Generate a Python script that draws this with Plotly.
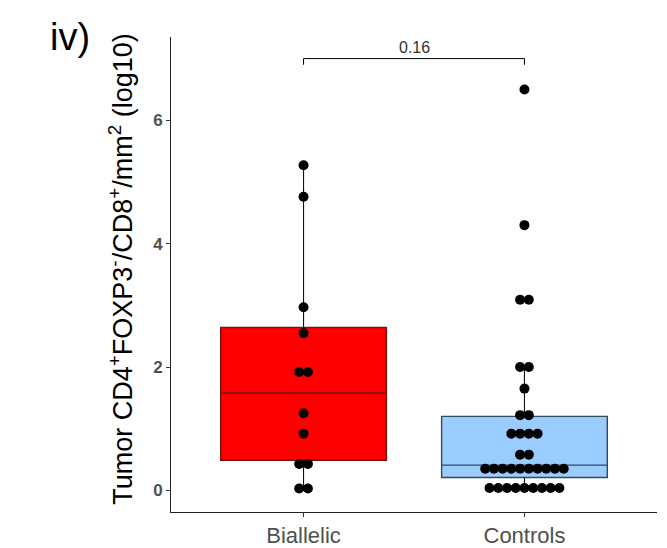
import plotly.graph_objects as go
from collections import Counter

# ---------------- data ----------------
categories = ["Biallelic", "Controls"]

biallelic_values = [5.27, 4.76, 2.97, 2.55, 1.92, 1.92, 1.25, 0.92,
                    0.43, 0.43, 0.03, 0.03]
controls_values = [6.50, 4.30, 3.09, 3.09, 2.00, 2.00, 1.65, 1.22, 1.22,
                   0.92, 0.92, 0.92, 0.92, 0.58, 0.58,
                   0.35, 0.35, 0.35, 0.35, 0.35, 0.35, 0.35, 0.35, 0.35, 0.35,
                   0.04, 0.04, 0.04, 0.04, 0.04, 0.04, 0.04, 0.04, 0.04]

# box statistics
box_q1 = [0.49, 0.21]
box_median = [1.58, 0.41]
box_q3 = [2.64, 1.20]
whisker_low = [0.03, 0.04]
whisker_high = [5.27, 2.00]

p_value_label = "0.16"

y_tick_vals = [0, 2, 4, 6]

# ---------------- styling ----------------
box_fill = ["#FF0000", "#99CCFF"]
box_line = ["#7A1212", "#34495E"]
BOX_WIDTH = 0.75
DOT_STEP = 0.0395
BRACKET_Y = 7.0
BRACKET_TIP = 0.1

fig = go.Figure()
xpos = [1, 2]

# boxes
for i, cat in enumerate(categories):
    fig.add_trace(go.Box(
        x=[xpos[i]], q1=[box_q1[i]], median=[box_median[i]], q3=[box_q3[i]],
        lowerfence=[box_q1[i]], upperfence=[box_q3[i]],
        width=BOX_WIDTH, fillcolor=box_fill[i],
        line=dict(color=box_line[i], width=1.4), whiskerwidth=0,
        boxpoints=False, showlegend=False, hoverinfo="skip", name=cat))

# whiskers
for i, cat in enumerate(categories):
    for lo, hi in ((whisker_low[i], box_q1[i]), (box_q3[i], whisker_high[i])):
        fig.add_trace(go.Scatter(
            x=[xpos[i], xpos[i]], y=[lo, hi], mode="lines",
            line=dict(color="#111111", width=1.1), showlegend=False, hoverinfo="skip"))

# dots (centered dot stacks)
for i, vals in enumerate([biallelic_values, controls_values]):
    counts = Counter(vals)
    xs, ys = [], []
    for v, n in counts.items():
        for k in range(n):
            xs.append(xpos[i] + (k - (n - 1) / 2) * DOT_STEP)
            ys.append(v)
    fig.add_trace(go.Scatter(
        x=xs, y=ys, mode="markers",
        marker=dict(color="black", size=10, line=dict(width=0)),
        showlegend=False, hoverinfo="skip"))

# significance bracket
fig.add_trace(go.Scatter(
    x=[xpos[0], xpos[0], xpos[1], xpos[1]],
    y=[BRACKET_Y - BRACKET_TIP, BRACKET_Y, BRACKET_Y, BRACKET_Y - BRACKET_TIP],
    mode="lines", line=dict(color="black", width=1),
    showlegend=False, hoverinfo="skip"))
fig.add_annotation(x=(xpos[0] + xpos[1]) / 2, y=BRACKET_Y, text=p_value_label,
                   showarrow=False, yanchor="bottom", yshift=1,
                   font=dict(family="Liberation Sans", size=16, color="#333333"))

# y-axis title and panel label
fig.add_annotation(
    xref="paper", yref="paper", x=-0.103, y=0.512,
    text="Tumor CD4<sup>+</sup>FOXP3<sup>-</sup>/CD8<sup>+</sup>/mm<sup>2</sup> (log10)",
    textangle=-90, showarrow=False, xanchor="center", yanchor="middle",
    font=dict(family="Liberation Sans", size=27, color="black"))
fig.add_annotation(
    xref="paper", yref="paper", x=-0.208, y=1.0, text="iv)",
    showarrow=False, xanchor="center", yanchor="middle",
    font=dict(family="Liberation Sans", size=38, color="black"))

fig.update_layout(
    width=667, height=548, autosize=False,
    margin=dict(l=171, r=10, t=37, b=36, autoexpand=False),
    plot_bgcolor="white", paper_bgcolor="white",
    boxmode="overlay",
    xaxis=dict(range=[0.4, 2.6], tickvals=xpos, ticktext=categories,
               automargin=False,
               showgrid=False, zeroline=False, showline=True,
               linecolor="#222222", linewidth=1, ticks="outside", ticklen=4,
               tickcolor="#333333",
               tickfont=dict(family="Liberation Sans", size=22, color="#505050")),
    yaxis=dict(range=[-0.35, 7.35], tickvals=y_tick_vals,
               automargin=False,
               showgrid=False, zeroline=False, showline=True,
               linecolor="#222222", linewidth=1, ticks="outside", ticklen=4,
               tickcolor="#333333",
               tickfont=dict(family="Liberation Sans", size=17, color="#505050",
                             weight="bold")),
)

fig.write_html("out.html",
               config={"displayModeBar": False},
               post_script="document.body.style.margin='0';document.body.style.overflow='hidden';")
